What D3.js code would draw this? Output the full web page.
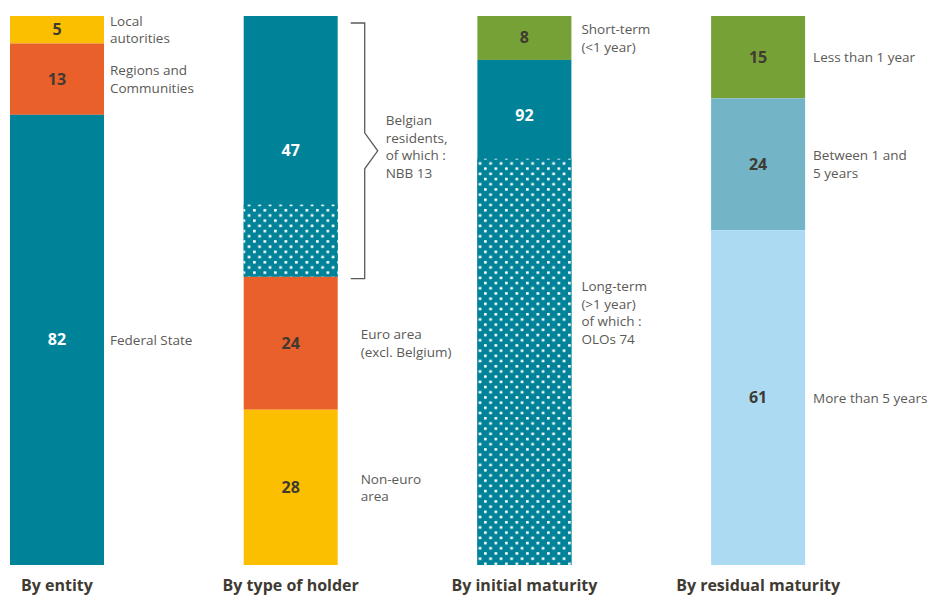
<!DOCTYPE html>
<html>
<head>
<meta charset="utf-8">
<script src="https://cdn.jsdelivr.net/npm/d3@7"></script>
<style>
  body { margin: 0; background: #fff; }
  svg { display: block; font-family: "Open Sans", "Noto Sans", sans-serif; }
</style>
</head>
<body>
<svg id="chart" width="932" height="596"></svg>
<script>
// panels, left to right
const panelTitles = ['By entity', 'By type of holder', 'By initial maturity', 'By residual maturity'];

const entityValues = [5, 13, 82];
const entityNames = [['Local', 'autorities'], ['Regions and', 'Communities'], ['Federal State']];

const holderValues = [47, 24, 28];
const holderNames = [['Belgian', 'residents,', 'of which :', 'NBB 13'], ['Euro area', '(excl. Belgium)'], ['Non-euro', 'area']];
const holderNBB = 13;

const initialValues = [8, 92];
const initialNames = [['Short-term', '(<1 year)'], ['Long-term', '(>1 year)', 'of which :', 'OLOs 74']];
const initialOLO = 74;

const residualValues = [15, 24, 61];
const residualNames = [['Less than 1 year'], ['Between 1 and', '5 years'], ['More than 5 years']];

const teal = '#008299', yellow = '#fcbf00', orange = '#e9602b', green = '#76a136';
const midBlue = '#74b4c7', lightBlue = '#acdaf2';
const darkText = '#3f3b33', labelGrey = '#5b5a57';

const panels = [
  {values: entityValues, names: entityNames, colors: [yellow, orange, teal], hatch: null, gap: 6},
  {values: holderValues, names: holderNames, colors: [teal, orange, yellow], hatch: {index: 0, value: holderNBB}, bracket: 0, gap: 23},
  {values: initialValues, names: initialNames, colors: [green, teal], hatch: {index: 1, value: initialOLO}, gap: 10},
  {values: residualValues, names: residualNames, colors: [green, midBlue, lightBlue], hatch: null, gap: 8}
];

const svg = d3.select('#chart');
const barTop = 16, barBottom = 565, barW = 94;

const x = d3.scaleBand()
  .domain(d3.range(panels.length))
  .range([10, 10 + 233.7 * 4])
  .paddingInner(0)
  .align(0);

// white dots on teal
const defs = svg.append('defs');
const pat = defs.append('pattern')
  .attr('id', 'dots')
  .attr('patternUnits', 'userSpaceOnUse')
  .attr('width', 10.5).attr('height', 10.4);
pat.append('rect').attr('width', 10.5).attr('height', 10.4).attr('fill', teal);
pat.append('rect').attr('x', 1).attr('y', 1).attr('width', 2.7).attr('height', 2.5).attr('fill', '#fff');
pat.append('rect').attr('x', 6.25).attr('y', 6.2).attr('width', 2.7).attr('height', 2.5).attr('fill', '#fff');

panels.forEach((p, i) => {
  const total = d3.sum(p.values);
  const y = d3.scaleLinear().domain([0, total]).range([barTop, barBottom]);
  const x0 = x(i);
  const g = svg.append('g');

  let acc = 0;
  const segs = p.values.map((v, j) => {
    const s = {v, j, y0: y(acc), y1: y(acc + v)};
    acc += v;
    return s;
  });

  g.selectAll('rect.seg')
    .data(segs)
    .join('rect')
    .attr('class', 'seg')
    .attr('x', x0)
    .attr('y', d => d.y0)
    .attr('width', barW)
    .attr('height', d => d.y1 - d.y0)
    .attr('fill', d => p.colors[d.j]);

  // dotted part sits at the bottom of its segment
  let valueCenter = segs.map(d => (d.y0 + d.y1) / 2);
  if (p.hatch) {
    const s = segs[p.hatch.index];
    const hy = y(d3.sum(p.values.slice(0, p.hatch.index + 1)) - p.hatch.value);
    g.append('rect')
      .attr('x', x0)
      .attr('y', hy)
      .attr('width', barW)
      .attr('height', s.y1 - hy)
      .attr('fill', 'url(#dots)');
    if (p.bracket === undefined) valueCenter[p.hatch.index] = (s.y0 + hy) / 2 + 6;
    else valueCenter[p.hatch.index] += 4;
  }

  g.selectAll('text.val')
    .data(segs)
    .join('text')
    .attr('class', 'val')
    .attr('x', x0 + barW / 2)
    .attr('y', d => valueCenter[d.j] + 5.5)
    .attr('text-anchor', 'middle')
    .style('font-size', '16px')
    .style('font-weight', 'bold')
    .attr('fill', d => p.colors[d.j] === teal ? '#fff' : darkText)
    .text(d => d.v);

  // labels on the right, centred on their segment
  segs.forEach(d => {
    const lines = p.names[d.j];
    const lh = 17.5;
    const cy = (d.y0 + d.y1) / 2;
    const tx = (p.bracket === d.j) ? x0 + barW + 48 : x0 + barW + p.gap;
    const t = g.append('text')
      .attr('x', tx)
      .attr('y', cy - (lines.length - 1) * lh / 2 + 5)
      .style('font-size', '13.5px')
      .attr('fill', labelGrey);
    lines.forEach((l, k) => {
      t.append('tspan')
        .attr('x', tx)
        .attr('dy', k === 0 ? 0 : lh)
        .text(l);
    });
  });

  if (p.bracket !== undefined) {
    const s = segs[p.bracket];
    const bx = x0 + barW + 13, vx = x0 + barW + 27, px = x0 + barW + 40;
    const y0 = s.y0 + 7, y1 = s.y1 + 2, mid = (y0 + y1) / 2;
    const path = d3.path();
    path.moveTo(bx, y0);
    path.lineTo(vx, y0);
    path.lineTo(vx, mid - 18);
    path.lineTo(px, mid);
    path.lineTo(vx, mid + 18);
    path.lineTo(vx, y1);
    path.lineTo(bx, y1);
    g.append('path')
      .attr('d', path.toString())
      .attr('fill', 'none')
      .attr('stroke', '#5b5a57')
      .attr('stroke-width', 1.3);
  }

  g.append('text')
    .attr('x', x0 + barW / 2)
    .attr('y', 591)
    .attr('text-anchor', 'middle')
    .style('font-size', '16px')
    .style('font-weight', 'bold')
    .attr('fill', darkText)
    .text(panelTitles[i]);
});
</script>
</body>
</html>
